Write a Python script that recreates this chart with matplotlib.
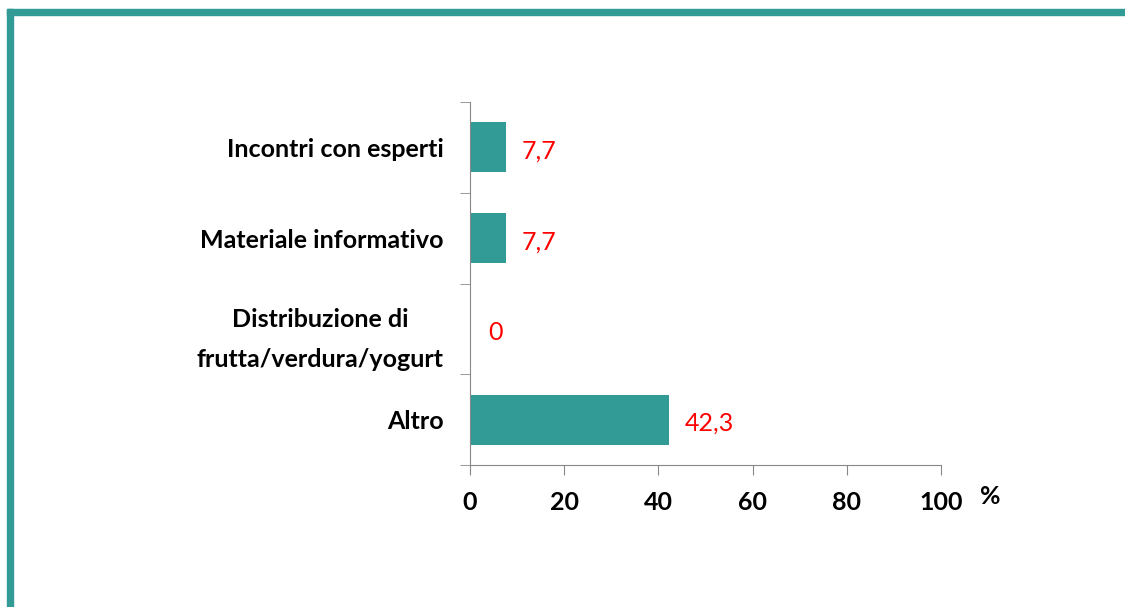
import matplotlib.pyplot as plt
from matplotlib.patches import Rectangle

categories = ["Incontri con esperti", "Materiale informativo",
              "Distribuzione di\nfrutta/verdura/yogurt", "Altro"]
values = [7.7, 7.7, 0, 42.3]
labels = ["7,7", "7,7", "0", "42,3"]
xticks = [0, 20, 40, 60, 80, 100]

teal = "#339b96"
grey = "#888888"
plt.rcParams['font.family'] = ['Lato', 'DejaVu Sans']

fig = plt.figure(figsize=(11.25, 6.07), dpi=100)
ax = fig.add_axes([470/1125, 1 - 465/607, 471/1125, 363/607])

pos = list(range(len(categories)))[::-1]
ax.barh(pos, values, height=0.55, color=teal)
for p, v, t in zip(pos, values, labels):
    off = 3.8 if v == 0 else 3.3
    ax.text(v + off, p - 0.04, t, color="red", fontsize=18, va="center", ha="left")

ax.set_xlim(0, 100)
ax.set_ylim(-0.5, 3.5)
ax.set_xticks(xticks)
ax.set_xticklabels([str(x) for x in xticks], fontsize=18, fontweight="bold")
ax.set_yticks(pos)
ax.set_yticklabels(categories, fontsize=18, fontweight="bold", linespacing=1.9,
                   multialignment="center")
ax.set_yticks([-0.5, 0.5, 1.5, 2.5, 3.5], minor=True)
ax.tick_params(axis="y", which="major", length=0, pad=19)
ax.tick_params(axis="y", which="minor", length=7, color=grey, direction="out")
ax.tick_params(axis="x", length=7, color=grey, direction="out", pad=12)
ax.spines["top"].set_visible(False)
ax.spines["right"].set_visible(False)
ax.spines["left"].set_color(grey)
ax.spines["bottom"].set_color(grey)

fig.text(990/1125, 1 - 497/607, "%", fontsize=18, fontweight="bold", ha="center", va="center")

fig.patches.append(Rectangle((7/1125, 1 - 15/607), 1, 6/607, transform=fig.transFigure,
                             color=teal, zorder=5))
fig.patches.append(Rectangle((7/1125, 0), 6/1125, 1 - 9/607, transform=fig.transFigure,
                             color=teal, zorder=5))

fig.savefig("out.png", dpi=100)
plt.close()
